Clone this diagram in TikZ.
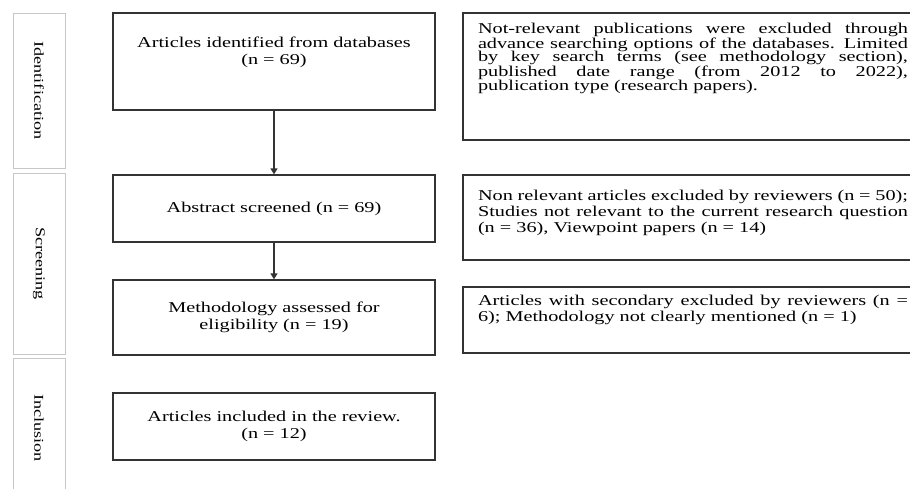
\documentclass[tikz,border=0pt]{standalone}
\usepackage{fontspec}
\setmainfont{Liberation Serif}[FakeStretch=1.35]
\usetikzlibrary{arrows.meta}
\setlength{\lineskiplimit}{-20pt}

\begin{document}
\begin{tikzpicture}[x=1pt,y=-1pt,
 box/.style={draw=black!80,line width=1.3pt,minimum width=322pt,text width=300pt,
  align=center,font=\fontsize{15}{17}\selectfont},
 note/.style={draw=black!80,line width=1.3pt,text width=430pt,inner xsep=15pt,
  align=justify,font=\fontsize{15}{16}\selectfont},
 phase/.style={draw=black!22,line width=1pt,minimum height=52pt,rotate=-90,
  font=\fontsize{13.5}{13.5}\selectfont},
 arr/.style={draw=black!80,line width=1.3pt,-{Triangle[length=6pt,width=7pt]}}]

\useasboundingbox (0,0) rectangle (910,488);
\clip (0,0) rectangle (910,488);

% phases on the left
\node[phase,minimum width=155pt] (ph1) at (39,90.5) {Identification};
\node[phase,minimum width=181pt] (ph2) at (39,263.5) {Screening};
\node[phase,minimum width=140pt] (ph3) at (39,428) {Inclusion};

% main flow
\node[box,minimum height=97pt] (ident) at (274,61.5)
 {Articles identified from databases\\(n = 69)\par\vspace{5pt}\null};
\node[box,minimum height=67pt] (screen) at (274,208.5) {Abstract screened (n = 69)};
\node[box,minimum height=75pt] (assess) at (274,317.5)
 {Methodology assessed for\\eligibility (n = 19)};
\node[box,minimum height=67pt] (incl) at (274,426.5)
 {Articles included in the review.\\(n = 12)};

\draw[arr] (ident.south) -- (screen.north);
\draw[arr] (screen.south) -- (assess.north);

% exclusions
\node[note,minimum height=127pt,font=\fontsize{15}{13.7}\selectfont]
 (excl1) at (693,76.5)
 {Not-relevant publications were excluded through\linebreak
  advance searching options of the databases. Limited\linebreak
  by key search terms (see methodology section),\linebreak
  published date range (from 2012 to 2022),\linebreak
  publication type (research papers).\par\vspace{26pt}\null};
\node[note,minimum height=85pt] (excl2) at (693,217.5)
 {Non relevant articles excluded by reviewers (n = 50);\linebreak
  Studies not relevant to the current research question\linebreak
  (n = 36), Viewpoint papers (n = 14)\par\vspace{-3pt}\null};
\node[note,minimum height=66pt] (excl3) at (693,320)
 {Articles with secondary excluded by reviewers (n =\linebreak
  6); Methodology not clearly mentioned (n = 1)\par\vspace{8pt}\null};
\end{tikzpicture}
\end{document}
